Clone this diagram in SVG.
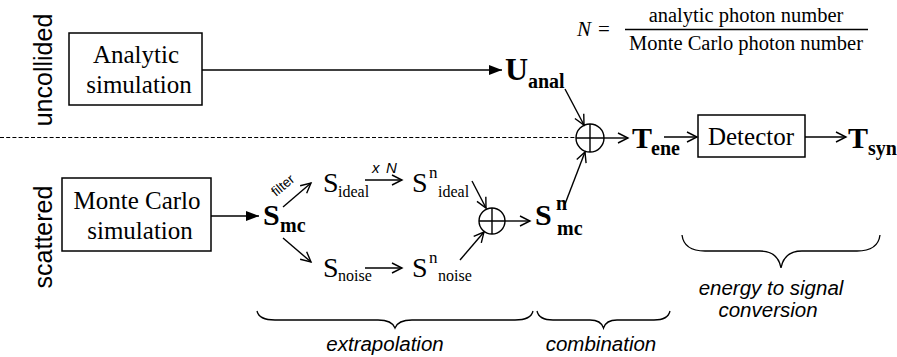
<svg xmlns="http://www.w3.org/2000/svg" width="897" height="357" viewBox="0 0 897 357">
<style>
.box{fill:#fff;stroke:#000;stroke-width:1.5}
.serif{font-family:"Liberation Serif","Times New Roman",serif;fill:#000}
.sans{font-family:"Liberation Sans",Arial,sans-serif;fill:#000}
.b{font-weight:bold}
.lbl{font-size:25px;text-anchor:middle}
.side{font-size:25px;text-anchor:middle}
.note{font-size:20.5px;font-style:italic;text-anchor:middle}
.c{fill:none;stroke:#000;stroke-width:1.4}
.open{marker-end:url(#open)}
.fill{marker-end:url(#filled)}
.brace{fill:none;stroke:#000;stroke-width:1.3}
</style>
<defs>
<marker id="open" markerUnits="userSpaceOnUse" markerWidth="14" markerHeight="14" refX="11" refY="6" orient="auto">
<path d="M1,1 L11,6 L1,11" fill="none" stroke="#000" stroke-width="1.4"/>
</marker>
<marker id="filled" markerUnits="userSpaceOnUse" markerWidth="14" markerHeight="12" refX="13" refY="5" orient="auto">
<path d="M0,0 L13,5 L0,10 z" fill="#000"/>
</marker>
</defs>

<text class="sans side" transform="translate(52,70) rotate(-90)">uncollided</text>
<text class="sans side" transform="translate(52,237) rotate(-90)">scattered</text>

<g id="formula">
<text class="serif" x="577" y="36" font-size="21" font-style="italic">N</text>
<text class="serif" x="598" y="36" font-size="21">=</text>
<text class="serif" x="746" y="22" font-size="20.5" text-anchor="middle">analytic photon number</text>
<line x1="625" y1="29.5" x2="868" y2="29.5" stroke="#000" stroke-width="1.3"/>
<text class="serif" x="746" y="50" font-size="20.5" text-anchor="middle">Monte Carlo photon number</text>
</g>

<g id="analytic">
<rect class="box" x="69" y="33" width="133" height="72"/>
<text class="serif lbl" x="136" y="63">Analytic</text>
<text class="serif lbl" x="139" y="93">simulation</text>
</g>

<g id="montecarlo">
<rect class="box" x="62" y="178" width="149" height="73"/>
<text class="serif lbl" x="137" y="209">Monte Carlo</text>
<text class="serif lbl" x="140" y="239">simulation</text>
</g>

<g id="detector">
<rect class="box" x="698" y="115" width="107" height="42"/>
<text class="serif lbl" x="751" y="145">Detector</text>
</g>

<g id="U_anal">
<text class="serif b" x="505" y="80" font-size="32">U</text>
<text class="serif b" x="528" y="88" font-size="20">anal</text>
</g>

<g id="T_ene">
<text class="serif b" x="632" y="148" font-size="30">T</text>
<text class="serif b" x="651" y="155" font-size="20">ene</text>
</g>

<g id="T_syn">
<text class="serif b" x="848" y="148" font-size="30">T</text>
<text class="serif b" x="868" y="155" font-size="20">syn</text>
</g>

<g id="S_mc">
<text class="serif b" x="263" y="225" font-size="30">S</text>
<text class="serif b" x="280" y="232" font-size="20">mc</text>
</g>

<g id="S_ideal">
<text class="serif" x="323" y="192" font-size="28">S</text>
<text class="serif" x="338" y="197" font-size="16">ideal</text>
</g>

<g id="Sn_ideal">
<text class="serif" x="412" y="192" font-size="28">S</text>
<text class="serif" x="429" y="178" font-size="17">n</text>
<text class="serif" x="438" y="197" font-size="16">ideal</text>
</g>

<g id="S_noise">
<text class="serif" x="323" y="277" font-size="28">S</text>
<text class="serif" x="338" y="281" font-size="16">noise</text>
</g>

<g id="Sn_noise">
<text class="serif" x="412" y="277" font-size="28">S</text>
<text class="serif" x="429" y="263" font-size="17">n</text>
<text class="serif" x="438" y="281" font-size="16">noise</text>
</g>

<g id="Sn_mc">
<text class="serif b" x="535" y="225" font-size="30">S</text>
<text class="serif b" x="556" y="210" font-size="20">n</text>
<text class="serif b" x="557" y="235" font-size="20">mc</text>
</g>

<g id="sum1">
<circle cx="492" cy="221" r="13" fill="#fff" stroke="#000" stroke-width="1.4"/>
<path d="M479,221 H505 M492,208 V234" stroke="#000" stroke-width="1.4"/>
</g>

<g id="sum2">
<circle cx="590" cy="138" r="14" fill="#fff" stroke="#000" stroke-width="1.4"/>
<path d="M576,138 H604 M590,124 V152" stroke="#000" stroke-width="1.4"/>
</g>

<g id="connectors">
<line x1="0" y1="137.5" x2="576" y2="137.5" stroke="#000" stroke-width="1.2" stroke-dasharray="4 2.2"/>
<line class="c fill" x1="202" y1="70" x2="502" y2="70"/>
<line class="c fill" x1="211" y1="216" x2="259" y2="216"/>
<line class="c open" x1="283" y1="207" x2="311" y2="183"/>
<line class="c open" x1="283" y1="238" x2="311" y2="262"/>
<line class="c open" x1="365" y1="180" x2="402" y2="180"/>
<line class="c open" x1="365" y1="268" x2="402" y2="268"/>
<line class="c open" x1="472" y1="181" x2="486" y2="208"/>
<line class="c open" x1="460" y1="260" x2="484" y2="232"/>
<line class="c open" x1="505" y1="221" x2="530" y2="221"/>
<line class="c open" x1="565" y1="204" x2="585" y2="152"/>
<line class="c open" x1="565" y1="89" x2="584" y2="125"/>
<line class="c open" x1="604" y1="138" x2="628" y2="138"/>
<line class="c open" x1="664" y1="137" x2="697" y2="137"/>
<line class="c open" x1="805" y1="137" x2="846" y2="137"/>
<text class="sans" font-size="13.5" transform="translate(276,197) rotate(-40)">filter</text>
<text class="sans" font-size="15" font-style="italic" x="372" y="173">x</text>
<text class="sans" font-size="15" font-style="italic" x="386" y="173">N</text>
</g>

<g id="braces">
<path class="brace" d="M257,311 Q259,320 275,320 L378,320 Q392,320 395,328 Q398,320 412,320 L515,320 Q531,320 533,311"/>
<path class="brace" d="M537,311 Q539,320 553,320 L590,320 Q601,320 603.5,328 Q606,320 617,320 L654,320 Q668,320 670,311"/>
<path class="brace" d="M682,235 Q684,251 705,251 L760,251 Q778,251 781,268 Q784,251 802,251 L857,251 Q878,251 880,235"/>
<text class="sans note" x="385" y="351">extrapolation</text>
<text class="sans note" x="601" y="351">combination</text>
<text class="sans note" x="771" y="295">energy to signal</text>
<text class="sans note" x="768" y="317">conversion</text>
</g>
</svg>
